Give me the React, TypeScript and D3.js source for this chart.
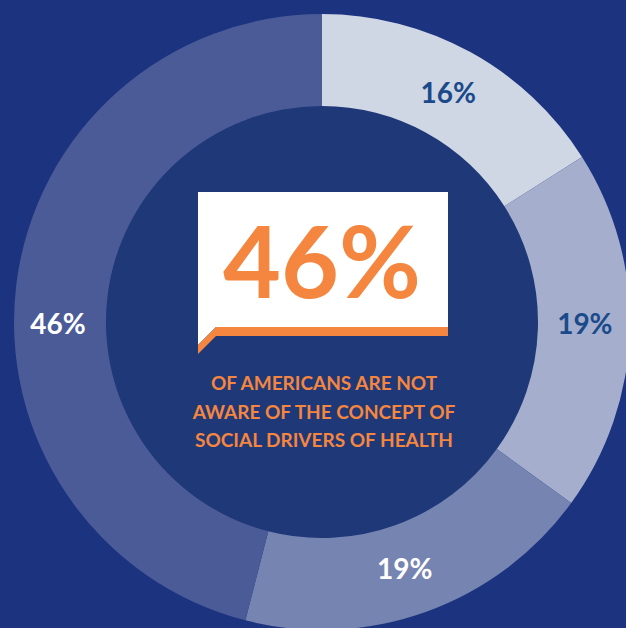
import React from "react";
import * as d3 from "d3";

const categories = ["A", "B", "C", "D"];
const values = [16, 19, 19, 46];
const labels = ["16%", "19%", "19%", "46%"];
const sliceColors = ["#CFD6E4", "#A5AFCD", "#7684B1", "#4A5B97"];
const labelColors = ["#1B4A8A", "#1B4A8A", "#FFFFFF", "#FFFFFF"];
const labelNudge: [number, number][] = [[0, 0], [1, -6], [-6, 0], [-4, 35]];
const headline = "46%";
const subtitleLines = ["OF AMERICANS ARE NOT", "AWARE OF THE CONCEPT OF", "SOCIAL DRIVERS OF HEALTH"];

const W = 626;
const H = 628;
const CX = 322;
const CY = 322;
const R_OUT = 308;
const R_IN = 216;
const FONT = "Lato, 'Open Sans', sans-serif";

export default function App() {
  const pie = d3.pie<number>().sort(null).value((d) => d)(values);
  const arc = d3.arc<d3.PieArcDatum<number>>().innerRadius(R_IN).outerRadius(R_OUT);

  // speech-bubble box
  const bx0 = 198, bx1 = 448, by0 = 192, by1 = 327, tail = 18, band = 9;
  const whitePath = `M${bx0},${by0}H${bx1}V${by1}H${bx0 + tail}L${bx0},${by1 + tail}Z`;
  const orangePath = `M${bx0 + tail},${by1}H${bx1}V${by1 + band}H${bx0 + tail}L${bx0},${by1 + tail + band}V${by1 + tail}Z`;

  return (
    <svg width={W} height={H} style={{ position: "absolute", left: 0, top: 0, display: "block" }}>
      <rect width={W} height={H} fill="#1C337F" />
      <g transform={`translate(${CX},${CY})`}>
        <circle r={R_IN} fill="#1E3878" />
        {pie.map((p, i) => (
          <path key={categories[i]} d={arc(p) || ""} fill={sliceColors[i]} />
        ))}
        {pie.map((p, i) => {
          const [x, y] = arc.centroid(p);
          return (
            <text
              key={"l" + categories[i]}
              x={x + labelNudge[i][0]}
              y={y + labelNudge[i][1]}
              dy="0.36em"
              textAnchor="middle"
              fontFamily={FONT}
              fontWeight={700}
              fontSize={28}
              fill={labelColors[i]}
            >
              {labels[i]}
            </text>
          );
        })}
      </g>
      <path d={whitePath} fill="#FFFFFF" />
      <path d={orangePath} fill="#F5863F" />
      <text
        x={CX}
        y={298}
        textAnchor="middle"
        fontFamily={FONT}
        fontWeight={700}
        fontSize={100}
        fill="#F5863F"
      >
        {headline}
      </text>
      {subtitleLines.map((t, i) => (
        <text
          key={t}
          x={CX + 2}
          y={390 + i * 28.5}
          textAnchor="middle"
          fontFamily={FONT}
          fontWeight={700}
          fontSize={19}
          letterSpacing={0}
          fill="#F5863F"
        >
          {t}
        </text>
      ))}
    </svg>
  );
}
